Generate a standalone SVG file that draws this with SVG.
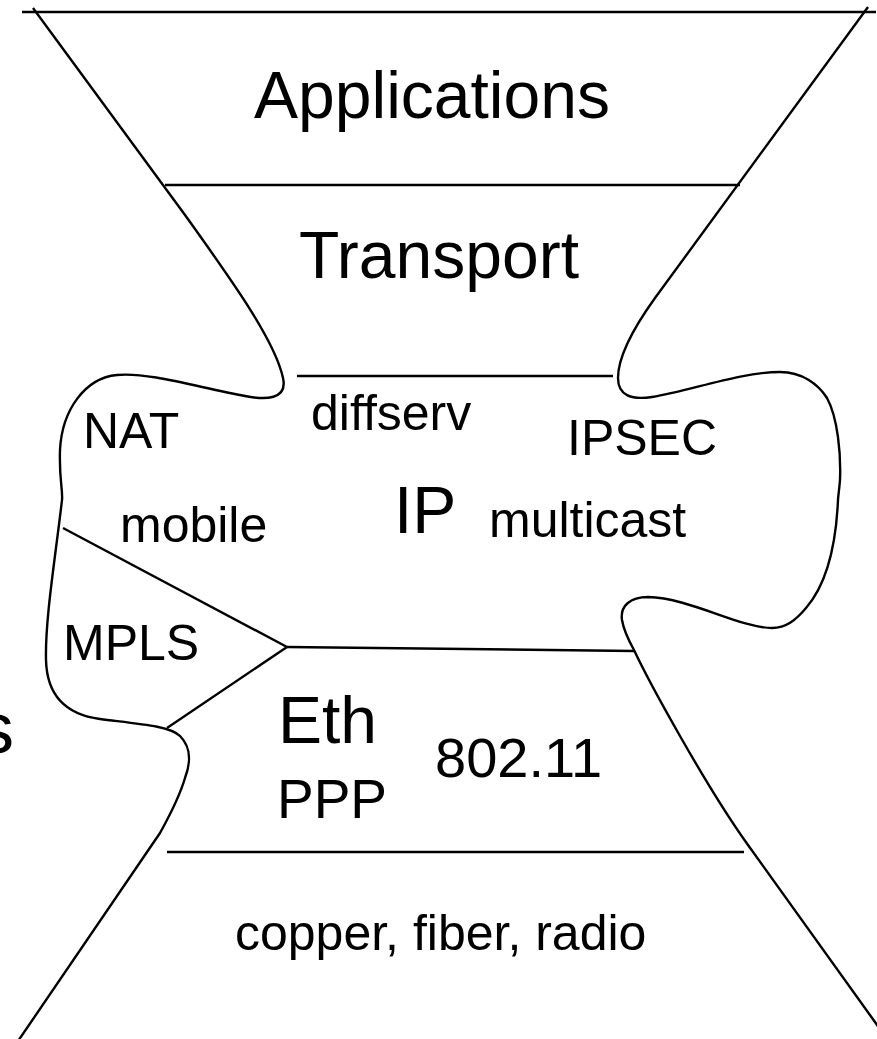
<svg xmlns="http://www.w3.org/2000/svg" width="877" height="1039" viewBox="0 0 877 1039">
<style>
.ln{fill:none;stroke:#000;stroke-width:2.4;stroke-linejoin:round;stroke-linecap:butt}
text{font-family:"Liberation Sans",Arial,sans-serif;fill:#000}
.big{font-size:66px}
.mid{font-size:50px}
</style>
<rect width="877" height="1039" fill="#fff"/>
<g id="connectors">
<path class="ln" d="M22,12 H876"/>
<path class="ln" d="M33,8 L185,215 C230,278 275,340 283,378 C288,400 265,400 245,396 C200,388 150,372 117,375 C85,378 62,410 60,450 C59,480 63,490 62,500 C55,560 45,620 46,660 C47,700 70,715 100,719 C140,724 170,726 180,736 C192,748 190,765 185,778 C180,795 170,815 160,833 L14,1047"/>
<path class="ln" d="M868,7 L655,298 C632,330 618,358 618,378 C618,396 632,400 652,397 C690,391 740,372 780,372 C802,372 818,384 827,398 C838,418 841,455 840,480 C839,492 838,497 838,500 C836,545 826,585 806,608 C796,620 786,628 772,628 C740,628 690,598 648,597 C630,597 620,606 622,620 C624,632 629,641 634,650 C648,680 705,785 748,845 L885,1036"/>
<path class="ln" d="M165,185 H740"/>
<path class="ln" d="M297,376 H613"/>
<path class="ln" d="M63,528 L287,647 L167,728"/>
<path class="ln" d="M287,647 L634,651"/>
<path class="ln" d="M167,852 H744"/>
</g>
<g id="applications"><text class="big" x="432" y="118" text-anchor="middle">Applications</text></g>
<g id="transport"><text class="big" x="439" y="278" text-anchor="middle">Transport</text></g>
<g id="ip"><text class="big" x="394" y="533">IP</text></g>
<g id="nat"><text class="mid" x="83" y="448">NAT</text></g>
<g id="diffserv"><text class="mid" x="311" y="430">diffserv</text></g>
<g id="ipsec"><text class="mid" x="567" y="455">IPSEC</text></g>
<g id="mobile"><text class="mid" x="120" y="542">mobile</text></g>
<g id="multicast"><text class="mid" x="489" y="537">multicast</text></g>
<g id="mpls"><text class="mid" x="63" y="660">MPLS</text></g>
<g id="eth"><text class="big" x="278" y="743">Eth</text></g>
<g id="ppp"><text x="277" y="818" font-size="55">PPP</text></g>
<g id="w80211"><text x="435" y="777" font-size="56">802.11</text></g>
<g id="physical"><text class="mid" x="235" y="950">copper, fiber, radio</text></g>
<g id="cutoff"><text x="-22" y="753" font-size="72">s</text></g>
</svg>
